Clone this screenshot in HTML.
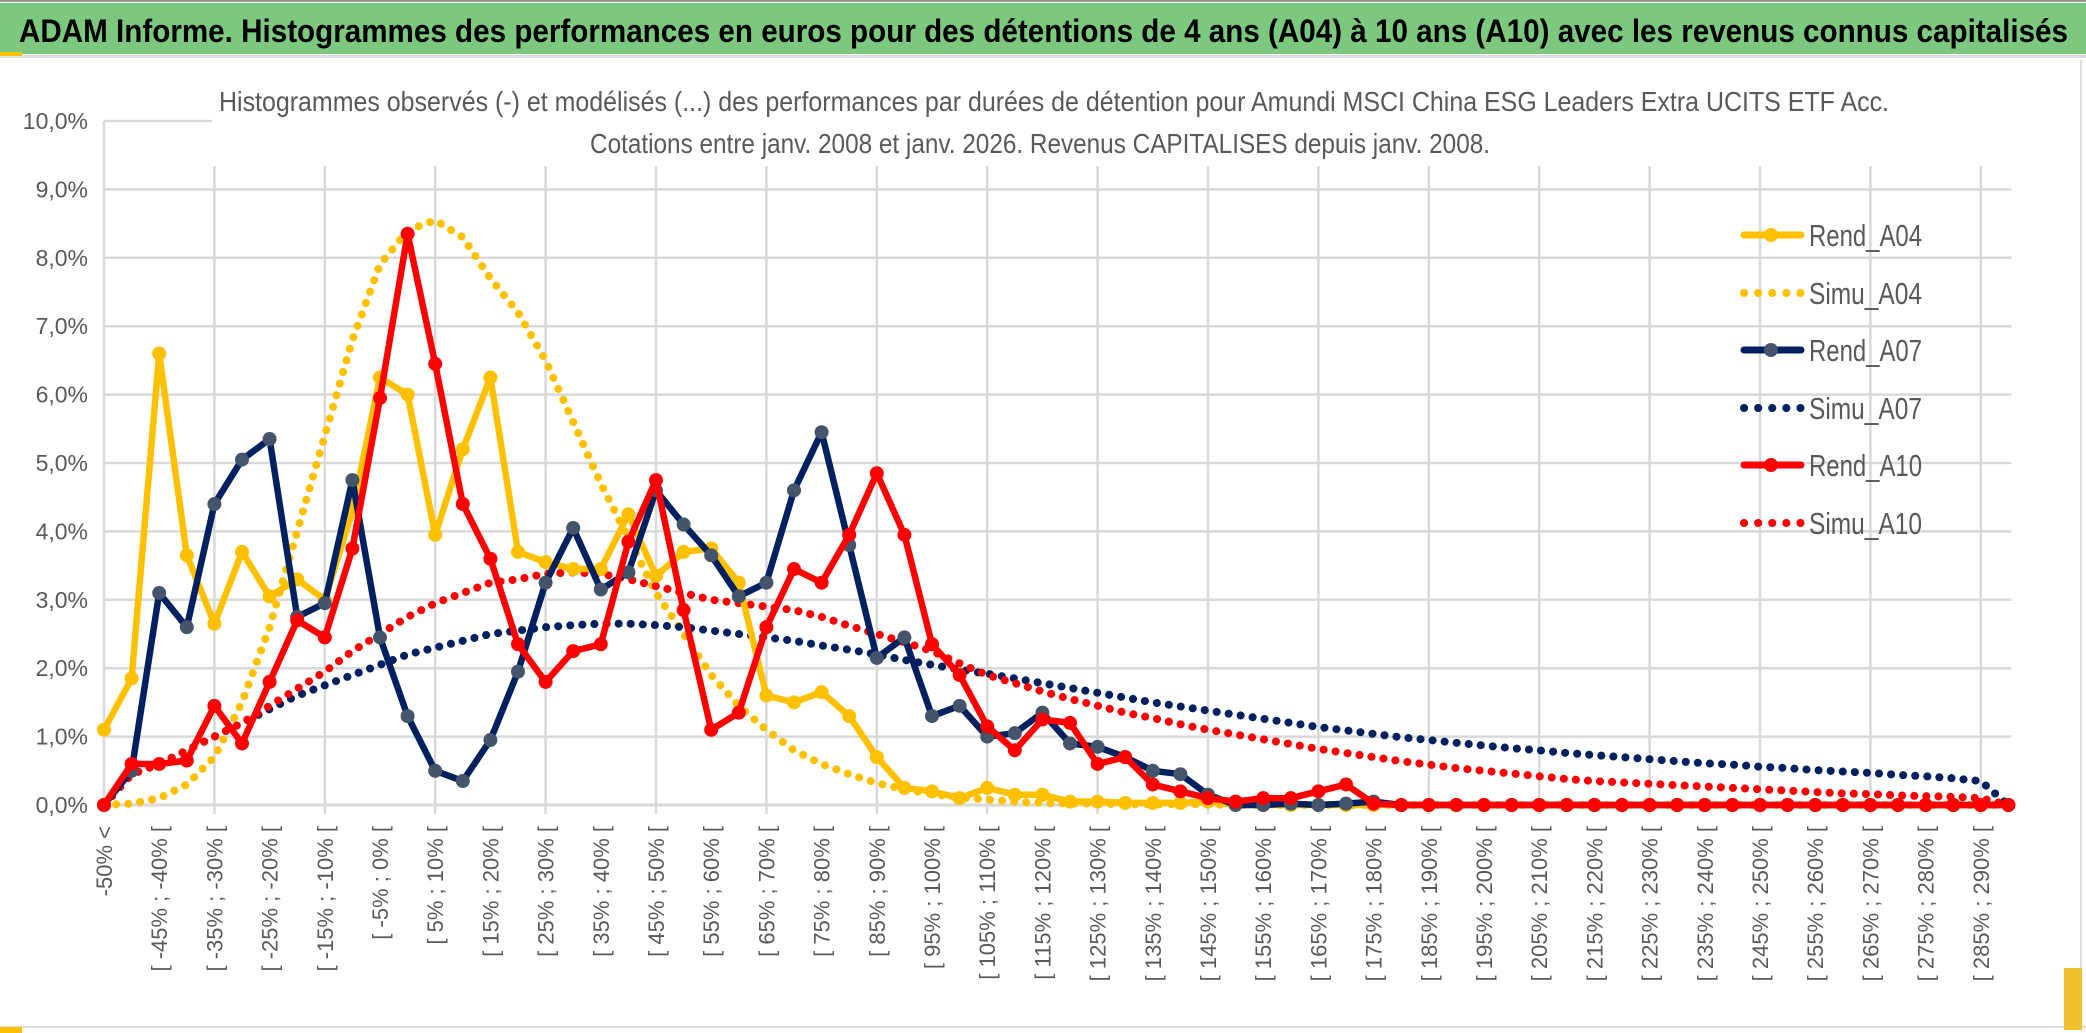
<!DOCTYPE html>
<html><head><meta charset="utf-8"><style>
html,body{margin:0;padding:0;background:#fff;}
svg{display:block;}
text{font-family:"Liberation Sans Narrow","Liberation Sans",sans-serif;}
</style></head><body>
<svg id="chart" width="2086" height="1033" viewBox="0 0 2086 1033" xmlns="http://www.w3.org/2000/svg">
<rect x="0" y="0" width="2086" height="1033" fill="#fff"/>
<rect x="0" y="0" width="2086" height="2" fill="#999"/>
<rect x="0" y="3" width="2086" height="51" fill="#7DC87F"/>
<rect x="0" y="55" width="2086" height="3" fill="#ddd"/>
<rect x="0" y="52" width="22" height="4" fill="#FFC000"/>
<text x="19" y="42" font-size="32" font-weight="bold" fill="#000" textLength="2049" lengthAdjust="spacingAndGlyphs">ADAM Informe. Histogrammes des performances en euros pour des détentions de 4 ans (A04) à 10 ans (A10) avec les revenus connus capitalisés</text>
<rect x="0" y="1026" width="2086" height="2" fill="#ddd"/>
<rect x="0" y="1027" width="22" height="6" fill="#FFC000"/>
<rect x="2080" y="60" width="2" height="966" fill="#ddd"/>
<rect x="2064" y="968" width="18" height="62" fill="#F0C030"/>
<g id="grid"></g>
<rect x="212" y="84" width="1810" height="82" fill="#fff"/>
<text x="219" y="111" font-size="28" fill="#595959" textLength="1670" lengthAdjust="spacingAndGlyphs">Histogrammes observés (-) et modélisés (...) des performances par durées de détention pour Amundi MSCI China ESG Leaders Extra UCITS ETF Acc.</text>
<text x="590" y="153" font-size="28" fill="#595959" textLength="900" lengthAdjust="spacingAndGlyphs">Cotations entre janv. 2008 et janv. 2026. Revenus CAPITALISES depuis janv. 2008.</text>
<g id="axes"></g>
<g id="series"></g>
<g id="legend"></g>
</svg>
<script>
const yTicks = ["0,0%","1,0%","2,0%","3,0%","4,0%","5,0%","6,0%","7,0%","8,0%","9,0%","10,0%"];
const rendA04 = [1.1,1.85,6.6,3.65,2.65,3.7,3.05,3.3,3.0,4.3,6.25,6.0,3.95,5.2,6.25,3.7,3.55,3.45,3.45,4.25,3.35,3.7,3.75,3.25,1.6,1.5,1.65,1.3,0.7,0.25,0.2,0.1,0.25,0.15,0.15,0.05,0.05,0.03,0.03,0.03,0.05,0,0,0,0,0,0,0,0,0,0,0,0,0,0,0,0,0,0,0,0,0,0,0,0,0,0,0,0,0];
const simuA04 = [0,0.02,0.1,0.3,0.7,1.5,2.6,4.0,5.4,6.8,7.9,8.4,8.55,8.3,7.7,7.2,6.5,5.6,4.7,3.9,3.1,2.5,1.9,1.45,1.1,0.8,0.6,0.45,0.32,0.23,0.16,0.11,0.08,0.05,0.03,0.02,0.02,0.01,0.01,0.01,0.01,0,0,0,0,0,0,0,0,0,0,0,0,0,0,0,0,0,0,0,0,0,0,0,0,0,0,0,0,0];
const rendA07 = [0,0.5,3.1,2.6,4.4,5.05,5.35,2.75,2.95,4.75,2.45,1.3,0.5,0.35,0.95,1.95,3.25,4.05,3.15,3.4,4.6,4.1,3.65,3.05,3.25,4.6,5.45,3.8,2.15,2.45,1.3,1.45,1.0,1.05,1.35,0.9,0.85,0.7,0.5,0.45,0.15,0,0,0.02,0,0.02,0.05,0,0,0,0,0,0,0,0,0,0,0,0,0,0,0,0,0,0,0,0,0,0,0];
const simuA07 = [0,0.45,0.6,0.8,1.0,1.2,1.4,1.6,1.75,1.9,2.05,2.2,2.3,2.4,2.5,2.55,2.6,2.63,2.65,2.65,2.63,2.6,2.55,2.5,2.45,2.4,2.33,2.27,2.2,2.12,2.05,1.98,1.92,1.85,1.78,1.71,1.64,1.57,1.5,1.44,1.38,1.32,1.26,1.2,1.14,1.09,1.04,0.99,0.95,0.91,0.87,0.83,0.8,0.76,0.73,0.7,0.67,0.64,0.61,0.59,0.56,0.54,0.51,0.49,0.47,0.44,0.42,0.39,0.35,0];
const rendA10 = [0,0.6,0.6,0.65,1.45,0.9,1.8,2.7,2.45,3.75,5.95,8.35,6.45,4.4,3.6,2.35,1.8,2.25,2.35,3.85,4.75,2.85,1.1,1.35,2.6,3.45,3.25,3.95,4.85,3.95,2.35,1.9,1.15,0.8,1.25,1.2,0.6,0.7,0.3,0.2,0.1,0.05,0.1,0.1,0.2,0.3,0.02,0,0,0,0,0,0,0,0,0,0,0,0,0,0,0,0,0,0,0,0,0,0,0];
const simuA10 = [0,0.45,0.6,0.8,1.0,1.2,1.45,1.7,1.95,2.25,2.5,2.75,2.95,3.1,3.25,3.3,3.38,3.4,3.38,3.3,3.2,3.1,3.0,2.95,2.9,2.85,2.75,2.62,2.5,2.38,2.25,2.07,1.9,1.78,1.66,1.55,1.45,1.35,1.27,1.18,1.1,1.03,0.96,0.89,0.82,0.76,0.7,0.64,0.59,0.54,0.5,0.46,0.42,0.38,0.35,0.33,0.31,0.29,0.27,0.25,0.23,0.21,0.19,0.17,0.16,0.14,0.13,0.12,0.1,0];

const NS = "http://www.w3.org/2000/svg";
const N = 70;
const X0 = 104, STEP = 27.6, Y0 = 805, YPX = 68.4;
function xs(i){ return X0 + i*STEP; }
function ys(v){ return Y0 - v*YPX; }
function mk(tag, attrs, parent){ const e=document.createElementNS(NS,tag); for(const k in attrs) e.setAttribute(k,attrs[k]); parent.appendChild(e); return e; }
function catLabel(i){ if(i===0) return "-50% <"; const a=-55+5*i; return "[ "+a+"% ; "+(a+5)+"% ["; }

const grid=document.getElementById('grid');
const axes=document.getElementById('axes');
const xEnd = xs(N-1)+3;
for(let t=1;t<yTicks.length;t++){
  const l=mk('line',{x1:X0,x2:xEnd,y1:ys(t),y2:ys(t),stroke:'#D9D9D9','stroke-width':2.5},grid);
  
  
}
for(let i=4;i<N;i+=4){
  const l=mk('line',{x1:xs(i),x2:xs(i),y1:ys(10),y2:Y0+9,stroke:'#D9D9D9','stroke-width':2.5},grid);
  
  
}
mk('line',{x1:X0,x2:X0,y1:ys(10),y2:Y0,stroke:'#D9D9D9','stroke-width':2.5},grid);
const ax=mk('line',{x1:X0,x2:xEnd,y1:Y0,y2:Y0,stroke:'#D9D9D9','stroke-width':3},axes);


yTicks.forEach((t,k)=>{
  const e=mk('text',{x:88,y:ys(k)+8,'text-anchor':'end','font-size':23,fill:'#595959'},axes);
  e.textContent=t;
  
  
});
for(let i=0;i<N;i+=2){
  const x=xs(i)+8, y=826;
  const e=mk('text',{x:x,y:y,'text-anchor':'end','font-size':22,fill:'#595959',transform:'rotate(-90 '+x+' '+y+')',style:'font-family:"Liberation Sans",sans-serif'},axes);
  e.textContent=catLabel(i);
  
  
}

const series=document.getElementById('series');
function pts(arr){ return arr.map((v,i)=>xs(i).toFixed(1)+','+ys(v).toFixed(1)).join(' '); }
function dotted(arr,color,name){
  const p=mk('polyline',{points:pts(arr),fill:'none',stroke:color,'stroke-width':8,'stroke-linecap':'round','stroke-dasharray':'0.1 12'},series);
  
  
}
function solid(arr,color,mcolor,name){
  const g=mk('g',{},series);
  
  
  mk('polyline',{points:pts(arr),fill:'none',stroke:color,'stroke-width':6.5,'stroke-linejoin':'round'},g);
  arr.forEach((v,i)=>{
    const c=mk('circle',{cx:xs(i),cy:ys(v),r:7,fill:mcolor},g);
    
    
  });
}
dotted(simuA04,'#FFC000','simu-a04-line');
dotted(simuA07,'#002060','simu-a07-line');
dotted(simuA10,'#FF0000','simu-a10-line');
solid(rendA04,'#FFC000','#FFC000','rend-a04-line');
solid(rendA07,'#002060','#44546A','rend-a07-line');
solid(rendA10,'#FF0000','#FF0000','rend-a10-line');

const legend=document.getElementById('legend');
const legNames=["Rend_A04","Simu_A04","Rend_A07","Simu_A07","Rend_A10","Simu_A10"];
const legColors=['#FFC000','#FFC000','#002060','#002060','#FF0000','#FF0000'];
const legMarker=['#FFC000',null,'#44546A',null,'#FF0000',null];
const legY=[235,293,350,408,465,523];
legNames.forEach((n,k)=>{
  const g=mk('g',{},legend);
  
  
  const y=legY[k];
  if(legMarker[k]){
    mk('line',{x1:1744,x2:1801,y1:y,y2:y,stroke:legColors[k],'stroke-width':7,'stroke-linecap':'round'},g);
    mk('circle',{cx:1771,cy:y,r:7,fill:legMarker[k]},g);
  } else {
    mk('line',{x1:1744,x2:1801,y1:y,y2:y,stroke:legColors[k],'stroke-width':8,'stroke-linecap':'round','stroke-dasharray':'0.1 14'},g);
  }
  const t=mk('text',{x:1809,y:y+11,'font-size':31,fill:'#595959',textLength:113,lengthAdjust:'spacingAndGlyphs'},g);
  t.textContent=n;
});
</script>
</body></html>
